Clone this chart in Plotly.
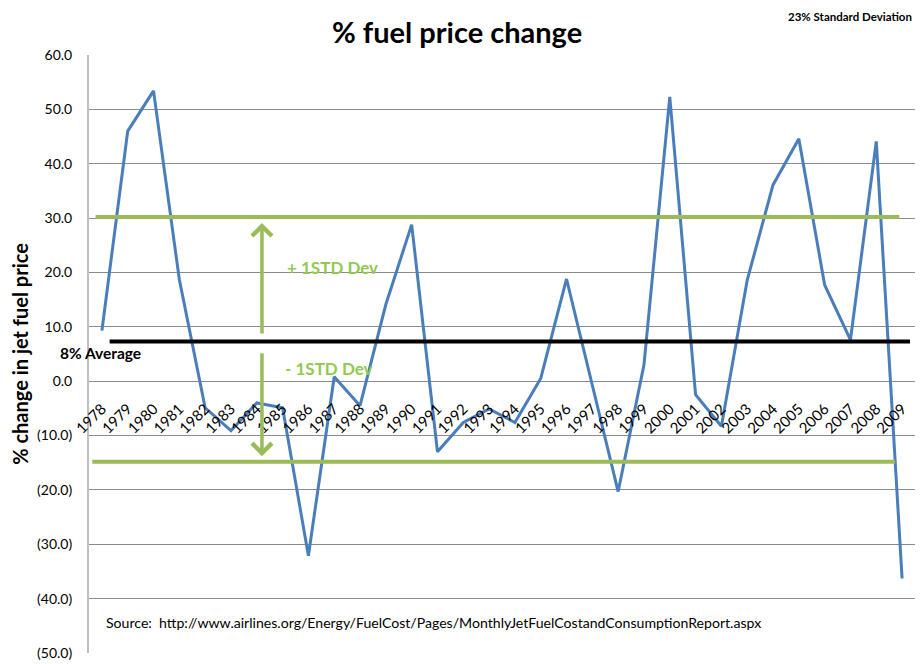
import plotly.graph_objects as go

years = [str(y) for y in range(1978, 2010)]
pct_change = [9.3, 46.0, 53.4, 18.7, -4.9, -9.1, -4.0, -4.9, -32.1, 0.8,
              -4.5, 14.1, 28.8, -13.0, -7.6, -5.1, -7.6, 0.5, 18.8, -0.8,
              -20.3, 3.0, 52.3, -2.5, -8.3, 18.6, 36.1, 44.6, 17.7, 7.6,
              44.1, -36.3]

y_ticks = [-50, -40, -30, -20, -10, 0, 10, 20, 30, 40, 50, 60]
y_tick_labels = ["(50.0)", "(40.0)", "(30.0)", "(20.0)", "(10.0)", "0.0",
                 "10.0", "20.0", "30.0", "40.0", "50.0", "60.0"]

average = 7.3
upper_std = 30.2
lower_std = -14.8

FONT = "Lato, 'Open Sans', sans-serif"
GREEN = "#9bbb59"
GREEN_TXT = "#92c94f"

fig = go.Figure()
fig.add_trace(go.Scatter(x=years, y=pct_change, mode="lines",
                         line=dict(color="#4a7ebb", width=3),
                         showlegend=False))

# reference lines (drawn by hand in the original, not full width)
fig.add_shape(type="line", xref="paper", yref="y", x0=0.008, x1=0.981,
              y0=upper_std, y1=upper_std, line=dict(color=GREEN, width=4))
fig.add_shape(type="line", xref="paper", yref="y", x0=0.004, x1=0.976,
              y0=lower_std, y1=lower_std, line=dict(color=GREEN, width=4))
fig.add_shape(type="line", xref="paper", yref="y", x0=0.025, x1=0.994,
              y0=average, y1=average, line=dict(color="black", width=4))

# double arrow for +/- 1 std dev
arrow_x = 0.2094
fig.add_annotation(xref="paper", yref="y", axref="pixel", ayref="y",
                   x=arrow_x, y=29.1, ax=0, ay=8.5, text="",
                   showarrow=True, arrowhead=4, arrowsize=1.1,
                   arrowwidth=3.5, arrowcolor=GREEN)
fig.add_annotation(xref="paper", yref="y", axref="pixel", ayref="y",
                   x=arrow_x, y=-13.8, ax=0, ay=5.4, text="",
                   showarrow=True, arrowhead=4, arrowsize=1.1,
                   arrowwidth=3.5, arrowcolor=GREEN)

# title as an annotation
fig.add_annotation(xref="paper", yref="paper", x=0.4455, y=1.0719,
                   text="<b>% fuel price change</b>", showarrow=False,
                   xanchor="center", yanchor="top",
                   font=dict(family=FONT, size=29, color="black"))

fig.add_annotation(xref="paper", yref="y", x=0.237, y=20.9,
                   text="<b>+ 1STD Dev</b>", showarrow=False,
                   xanchor="left", yanchor="middle",
                   font=dict(family=FONT, size=17, color=GREEN_TXT))
fig.add_annotation(xref="paper", yref="y", x=0.235, y=2.3,
                   text="<b>- 1STD Dev</b>", showarrow=False,
                   xanchor="left", yanchor="middle",
                   font=dict(family=FONT, size=17, color=GREEN_TXT))
fig.add_annotation(xref="paper", yref="y", x=-0.0375, y=5.2,
                   text="<b>8% Average</b>", showarrow=False,
                   xanchor="left", yanchor="middle",
                   font=dict(family=FONT, size=15.5, color="black"))
fig.add_annotation(xref="paper", yref="paper", x=0.999, y=1.0786,
                   text="<b>23% Standard Deviation</b>", showarrow=False,
                   xanchor="right", yanchor="top",
                   font=dict(family=FONT, size=11.5, color="black"))
fig.add_annotation(xref="paper", yref="y", x=0.018, y=-44.4,
                   text="Source:  http://www.airlines.org/Energy/FuelCost/Pages/MonthlyJetFuelCostandConsumptionReport.aspx",
                   showarrow=False, xanchor="left", yanchor="middle",
                   font=dict(family=FONT, size=14.1, color="black"))

# page body has an 8px margin, so the figure is sized to the rest of the window
fig.update_layout(
    width=916, height=656,
    margin=dict(l=81, r=9, t=47, b=11, autoexpand=False),
    paper_bgcolor="white", plot_bgcolor="white",
    font=dict(family=FONT, color="black"),
    xaxis=dict(type="category", range=[-0.5, 31.5], automargin=False,
               showgrid=False, zeroline=False,
               showline=False, anchor="free", position=50 / 110,
               tickangle=-45, ticks="outside", ticklen=12,
               tickcolor="rgba(0,0,0,0)",
               tickfont=dict(family=FONT, size=15, color="black")),
    yaxis=dict(range=[-50, 60], tickvals=y_ticks, ticktext=y_tick_labels,
               automargin=False,
               showgrid=True, gridcolor="#8c8c8c", gridwidth=1,
               zeroline=False, showline=True, linecolor="#bfbfbf",
               linewidth=2, ticks="outside", ticklen=12,
               tickcolor="rgba(0,0,0,0)",
               tickfont=dict(family=FONT, size=14, color="black"),
               title=dict(text="<b>% change in jet fuel price</b>",
                          standoff=16,
                          font=dict(family=FONT, size=20, color="black"))),
)

fig.write_html("out.html")
